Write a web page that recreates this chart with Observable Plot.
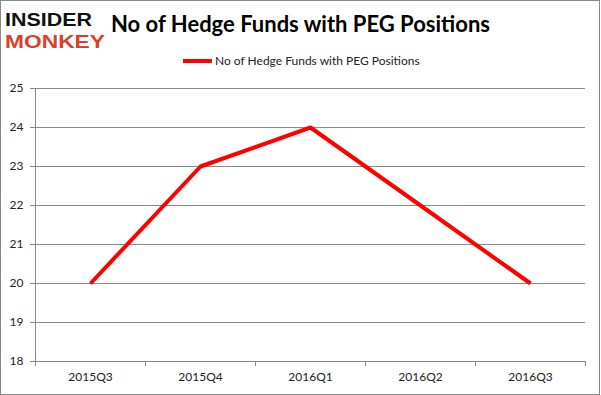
<!DOCTYPE html>
<html>
<head>
<meta charset="utf-8">
<script src="https://cdn.jsdelivr.net/npm/d3@7"></script>
<script src="https://cdn.jsdelivr.net/npm/@observablehq/plot@0.6"></script>
<style>
  html, body { margin: 0; padding: 0; background: #fff; }
  #wrap { position: relative; width: 601px; height: 395px; overflow: hidden; background: #fff; }
  #frame { position: absolute; left: 0; top: 0; width: 600px; height: 395px; box-sizing: border-box; border: 1px solid #8a8a8a; pointer-events: none; }
  #chart { position: absolute; left: 0; top: 0; }
  #title { position: absolute; left: 0; width: 601px; top: 10px; text-align: center; font-family: Lato, "Open Sans", sans-serif; font-weight: bold; font-size: 22px; color: #000; white-space: nowrap; }
  #legend { position: absolute; left: 183px; top: 53px; font-family: Lato, "Open Sans", sans-serif; font-size: 12px; color: #222; white-space: nowrap; display: flex; align-items: center; }
  #legend .sw { display: inline-block; width: 29px; height: 4px; background: #ff0000; margin-right: 3px; }
  #logo { position: absolute; left: 4px; top: 0px; overflow: visible; }
</style>
</head>
<body>
<div id="wrap">
  <div id="chart"></div>
  <svg id="logo" width="108" height="52">
    <text x="1" y="26" textLength="87" lengthAdjust="spacingAndGlyphs" font-family="'Liberation Sans', sans-serif" font-weight="bold" font-size="19" fill="#111">INSIDER</text>
    <text x="1" y="48" textLength="100" lengthAdjust="spacingAndGlyphs" font-family="'Liberation Sans', sans-serif" font-weight="bold" font-size="19" fill="#d9412b">MONKEY</text>
  </svg>
  <div id="title">No of Hedge Funds with PEG Positions</div>
  <div id="legend"><span class="sw"></span><span>No of Hedge Funds with PEG Positions</span></div>
  <div id="frame"></div>
</div>
<script>
const categories = ["2015Q3", "2015Q4", "2016Q1", "2016Q2", "2016Q3"];
const funds = [20, 23, 24, 22, 20];
const yTicks = [18, 19, 20, 21, 22, 23, 24, 25];

const data = categories.map((c, i) => ({i: i + 0.5, label: c, value: funds[i]}));
const bandEdges = d3.range(categories.length + 1);
const centers = categories.map((c, i) => i + 0.5);

const font = "Lato, 'Open Sans', sans-serif";
const gridColor = "#8a8a8a";

const marks = [
  Plot.gridY(yTicks, {stroke: gridColor, strokeOpacity: 1}),
  Plot.axisY(yTicks, {tickSize: 5, tickPadding: 7, stroke: gridColor, color: "#222", fontSize: 12, tickFormat: d => d, label: null}),
  Plot.ruleX([0], {stroke: gridColor}),
  Plot.ruleY([18], {stroke: gridColor}),
  Plot.axisX(bandEdges, {tickSize: 5, stroke: gridColor, tickFormat: () => "", label: null}),
  Plot.axisX(centers, {tickSize: 0, tickPadding: 11, color: "#222", fontSize: 12, tickFormat: d => categories[Math.round(d - 0.5)], label: null}),
  Plot.line(data, {x: "i", y: "value", stroke: "#ff0000", strokeWidth: 4, strokeLinejoin: "miter", strokeLinecap: "butt"})
];

const chart = Plot.plot({
  width: 601,
  height: 395,
  marginLeft: 35,
  marginRight: 16,
  marginTop: 88,
  marginBottom: 34,
  style: {fontFamily: font, background: "transparent"},
  x: {domain: [0, categories.length], axis: null},
  y: {domain: [18, 25], axis: null},
  marks
});
document.getElementById("chart").appendChild(chart);
</script>
</body>
</html>
